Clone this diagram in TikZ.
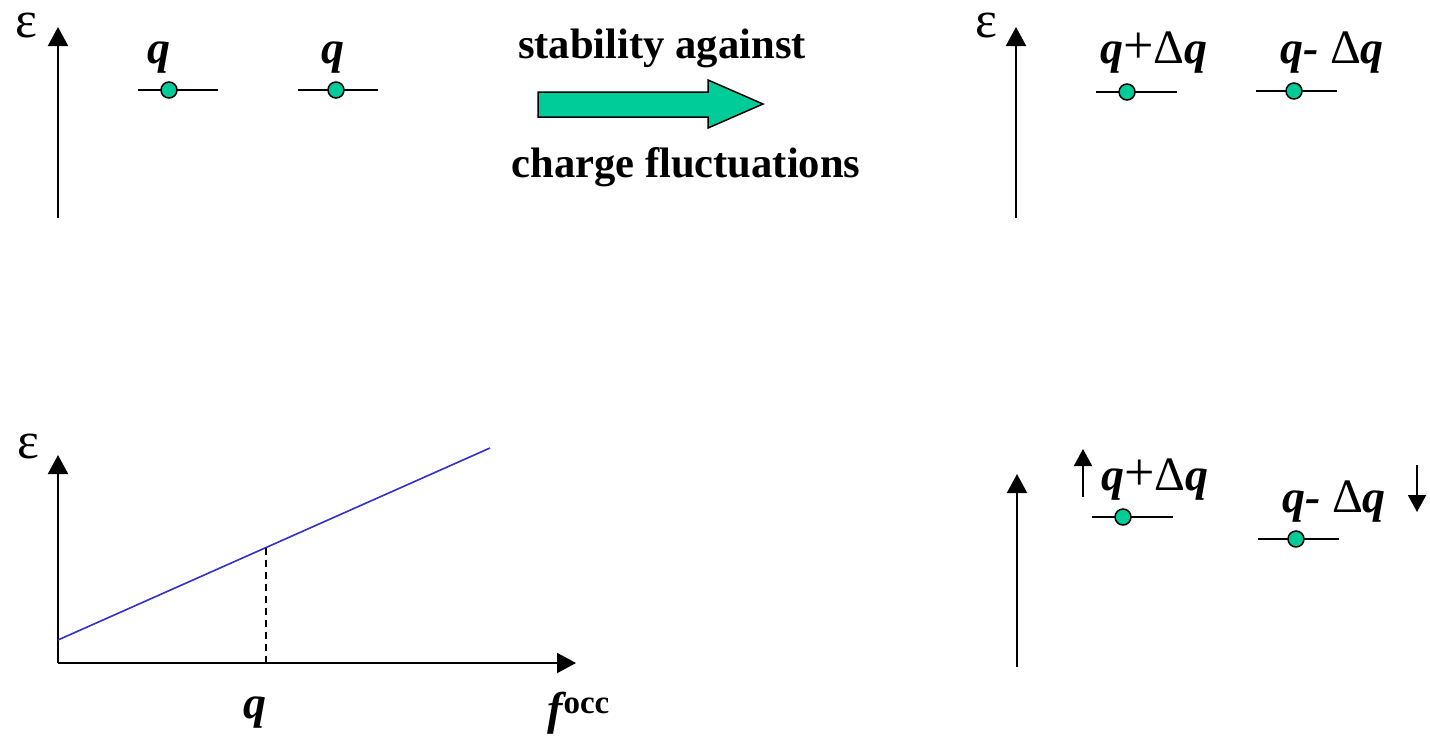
\documentclass[tikz,border=0pt]{standalone}
\usepackage{fontspec}
\usepackage{graphicx}
\setmainfont{Liberation Serif}
\usetikzlibrary{arrows.meta}
\definecolor{electron}{RGB}{0,204,153}
\definecolor{curve}{RGB}{51,51,204}
\newcommand{\dl}{\textup{\mdseries\fontsize{48}{50}\selectfont Δ}}
\newcommand{\pl}{\textup{\mdseries\fontsize{54}{50}\selectfont +}}
\begin{document}
\begin{tikzpicture}[x=1pt,y=-1pt,
  axis/.style={line width=2pt,-{Triangle[width=20pt,length=19pt]}},
  smallarrow/.style={line width=2pt,-{Triangle[width=18pt,length=17pt]}},
  level/.style={line width=1.8pt},
  elec/.style={circle,draw=black,line width=1.5pt,fill=electron,minimum size=16pt,inner sep=0pt},
  lab/.style={font=\fontsize{46}{50}\selectfont\bfseries\itshape,anchor=base,inner sep=0pt},
  eps/.style={font=\fontsize{52}{56}\selectfont,anchor=base,inner sep=0pt,text height=25pt,text depth=0pt},
  txt/.style={font=\fontsize{42.6}{50}\selectfont\bfseries,anchor=base,inner sep=0pt}]
\useasboundingbox (0,0) rectangle (1430,740);

% ---------- top left ----------
\coordinate (A1b) at (58,218);
\coordinate (A1t) at (58,27);
\draw[axis] (A1b) -- (A1t);
\node[eps] (E1) at (26,37) {ε};
\coordinate (L1a) at (138,90); \coordinate (L1b) at (218,90);
\draw[level] (L1a) -- (L1b);
\node[elec] (C1) at (169,90) {};
\node[lab] (Q1) at (159,63) {q};
\coordinate (L2a) at (298,90); \coordinate (L2b) at (378,90);
\draw[level] (L2a) -- (L2b);
\node[elec] (C2) at (336,90) {};
\node[lab] (Q2) at (333,63) {q};

% ---------- middle arrow ----------
\node[txt] (T1) at (662,58) {stability against};
\node[txt] (T2) at (686,177) {charge fluctuations};
\draw[line width=1.5pt,fill=electron]
  (538,92) -- (708,92) -- (708,80) -- (763,104) -- (708,128) -- (708,117) -- (538,117) -- cycle;

% ---------- top right ----------
\coordinate (A2b) at (1016,218);
\coordinate (A2t) at (1016,27);
\draw[axis] (A2b) -- (A2t);
\node[eps] (E2) at (986,37) {ε};
\coordinate (L3a) at (1096,92); \coordinate (L3b) at (1177,92);
\draw[level] (L3a) -- (L3b);
\node[elec] (C3) at (1127,92) {};
\node[lab,anchor=base west] (Q3) at (1100,63) {q\pl\dl q};
\coordinate (L4a) at (1256,91); \coordinate (L4b) at (1337,91);
\draw[level] (L4a) -- (L4b);
\node[elec] (C4) at (1294,91) {};
\node[lab,anchor=base west] (Q4) at (1280,63) {q- \dl q};

% ---------- bottom left ----------
\coordinate (O) at (58,663);
\coordinate (Yt) at (58,455);
\coordinate (Xt) at (576,663);
\draw[axis] (O) -- (Yt);
\draw[axis] (O) -- (Xt);
\node[eps] (E3) at (28,458) {ε};
\coordinate (B0) at (58,640);
\coordinate (B1) at (490,448);
\draw[curve,line width=1.6pt] (B0) -- (B1);
\coordinate (Dq) at (266,547.5);
\coordinate (Dx) at (266,663);
\draw[dashed,line width=1.3pt,dash pattern=on 7pt off 5pt] (Dq) -- (Dx);
\node[lab] (Q5) at (255,718) {q};
\node[lab,anchor=base west] (F) at (547,724) {f\kern1pt\raisebox{11pt}{\upshape\fontsize{33}{35}\selectfont occ}};

% ---------- bottom right ----------
\coordinate (A3b) at (1017,667);
\coordinate (A3t) at (1017,474);
\draw[axis] (A3b) -- (A3t);
\coordinate (U0) at (1083,497);
\coordinate (U1) at (1083,449);
\draw[smallarrow] (U0) -- (U1);
\node[lab,anchor=base west] (Q6) at (1101,490) {q\pl\dl q};
\coordinate (L5a) at (1092,517); \coordinate (L5b) at (1173,517);
\draw[level] (L5a) -- (L5b);
\node[elec] (C5) at (1123,517) {};
\node[lab,anchor=base west] (Q7) at (1282,512) {q- \dl q};
\coordinate (D0) at (1417,465);
\coordinate (D1) at (1417,512);
\draw[smallarrow] (D0) -- (D1);
\coordinate (L6a) at (1258,539); \coordinate (L6b) at (1339,539);
\draw[level] (L6a) -- (L6b);
\node[elec] (C6) at (1296,539) {};
\end{tikzpicture}
\end{document}
